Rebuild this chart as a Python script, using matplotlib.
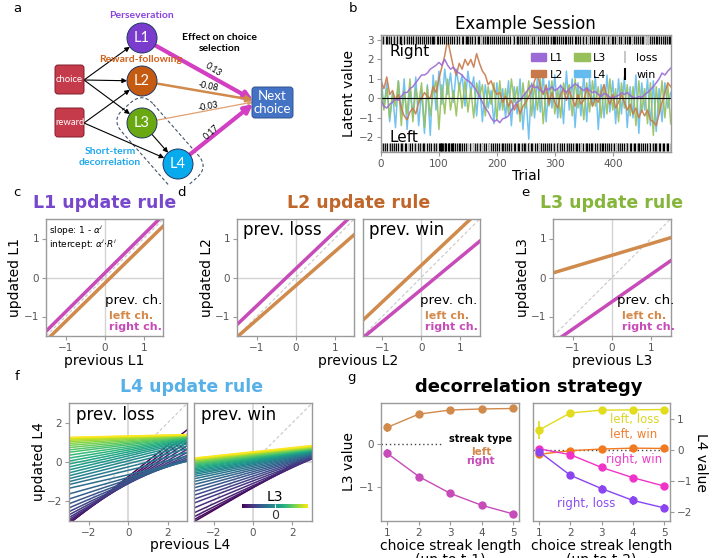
import numpy as np
import matplotlib
matplotlib.use('Agg')
import matplotlib.pyplot as plt
from matplotlib.patches import Circle, FancyBboxPatch, Patch, Rectangle
from matplotlib.lines import Line2D
from matplotlib.transforms import Affine2D
from matplotlib import cm, colors as mcolors

# ---------------- data ----------------
# panel b: example session latent values (sampled every 5 trials)
L1_vals = [-0.1, -0.4, -0.5, -0.3, -0.2, 0.0, -0.1, 0.1, 0.3, 0.3, 0.5, 0.6, 0.8, 1.0, 1.2, 1.2, 1.3, 1.5, 1.6, 1.7,
           1.85, 1.7, 2.0, 1.7, 1.5, 1.6, 1.4, 1.3, 1.2, 1.0, 0.9, 0.8, 0.6, 0.4, 0.1, -0.2, -0.5, -0.7, -1.0, -1.2,
           -1.1, -1.25, -1.05, -1.0, -0.9, -0.6, -0.4, -0.2, -0.1, 0.1, 0.3, 0.5, 0.7, 0.55, 0.6, 0.4, 0.3, 0.5, 0.45, 0.6,
           0.4, 0.5, 0.65, 0.45, 0.3, 0.5, 0.6, 0.75, 0.65, 0.5, 0.4, 0.55, 0.4, 0.3, 0.35, 0.2, 0.1, 0.25, 0.2, 0.05,
           0.0, 0.1, 0.15, 0.3, 0.2, 0.3, 0.15, 0.05, 0.0, 0.1, 0.05, 0.2, 0.3, 0.45, 0.6, 0.8, 1.0, 1.3, 1.2, 1.4, 1.55]
L2_vals = [0.9, 0.5, 1.1, 0.2, 0.4, -0.1, 0.2, -0.5, -0.9, -1.1, -0.7, -0.5, -0.8, -0.2, 0.0, 0.3, 0.1, 0.0, 0.6, 0.3,
           1.0, 1.6, 2.2, 3.0, 2.3, 1.6, 1.2, 1.8, 1.5, 2.0, 1.7, 2.0, 1.6, 2.3, 1.8, 1.4, 1.2, 0.7, 0.9, 0.5,
           0.2, 0.3, -0.2, 0.1, -0.4, -0.1, -0.6, -0.3, -0.8, -0.4, -0.2, 0.1, 0.4, 0.9, 1.3, 0.6, 0.2, 0.7, -0.3, 0.3,
           -0.2, -0.5, 0.2, 0.5, -0.1, 0.4, 0.0, -0.4, 0.2, -0.3, -0.1, 0.5, 0.2, -0.4, 0.0, -0.2, 0.3, 0.7, 0.1, -0.3,
           0.2, -0.5, -0.2, 0.2, -0.2, -0.6, -0.3, -0.8, -0.5, -1.0, -0.6, -0.9, -0.6, -1.1, -1.2, -1.4, -0.8, -0.2, 0.3, 0.8, 0.6]
L3_vals = [0.8, -0.6, 0.5, -1.0, 0.2, -0.4, 0.9, -1.4, 0.4, -0.8, 1.0, -1.2, 0.5, -0.3, 0.8, -1.5, 0.6, -0.9, 0.3, 0.9,
           -1.6, 0.7, -0.8, 1.0, -0.6, 0.4, -0.9, 0.8, -0.5, 0.9, -0.7, 0.5, -1.0, 0.8, 0.1, 0.7, -0.9, 0.6, -0.3, 0.8,
           -1.1, 0.9, -0.6, 0.5, -0.8, 1.0, -0.2, 0.6, -1.2, 0.8, -0.5, 0.9, -0.9, 0.7, -0.6, 1.0, -1.3, 0.6, -0.4, 0.9,
           -0.8, 0.5, -1.0, 0.8, 0.2, 0.7, -0.9, 1.0, -0.5, 0.6, -1.1, 0.8, -0.7, 0.9, -0.4, 0.6, -1.0, 0.7, -0.8, 1.0,
           -0.6, 0.5, -1.2, 0.8, -0.5, 0.7, -0.9, 0.6, -1.4, 0.9, -0.7, 0.5, -1.3, 0.8, -1.9, 0.6, -0.8, 0.9, -1.0, 0.7, -1.3]
L4_vals = [1.2, -0.5, 0.8, -1.2, 0.3, -1.5, 0.9, -0.8, 1.0, -1.6, 0.6, -1.0, 1.1, -1.4, 0.4, -1.8, 0.7, -1.9, 1.2, -0.6,
           1.4, -0.3, 1.5, 0.2, 1.3, -0.2, 1.5, 0.5, 1.2, -0.4, 1.4, 0.3, 1.1, -0.9, 0.9, -1.2, 0.7, -0.5, 0.4, -1.3,
           0.8, -0.6, 0.5, -1.0, 0.9, -1.4, 0.6, -0.8, 1.0, -1.6, 0.3, -2.1, 0.8, -1.0, 1.1, -0.7, 1.3, -1.2, 0.9, -0.5,
           1.2, -1.0, 0.7, -1.3, 1.4, -0.6, 1.0, -1.5, 0.8, -0.9, 1.3, -1.2, 1.0, -0.4, 1.1, -1.6, 0.7, -1.0, 1.2, -0.7,
           0.9, -1.3, 1.0, -0.8, 1.1, -1.5, 0.6, -1.0, 1.2, -1.8, 0.8, -0.6, 1.0, -1.4, 0.9, -1.7, 0.5, -1.2, 0.8, -0.5, 0.3]
sample_step = 5
# choices per trial: R/r = right win/loss, L/l = left win/loss
choice_rows = [
    "RlrLR rlLRl RLrlR rLlRL lrRLr lLRRl LrRlL RrLlR RlLrL RlrRl",
    "LrRlL RRlrL lRrLR lrLRl RlLrR LlrRL rRlLR lLrRR lLRrl LRlrR",
    "LLRLL RLLRl LLRLr LRLLR rLLRL LRlLR rLRlL RLrlR LrRlL rRLlR",
    "lRrLR lrRLl RrLRl LrRlR lLRrL lRLrR lLrRl RLlRr LlRLr RlLRl",
    "rLRlL rRlLR LrlRL lRrLl RLrRl LlRrL RlLrR lLRLr RlrLR lLRrL",
    "RlrLR LlRrL RLlrR lLRrl LRLlr RlLRr LlRLr RrLlR LrlRL rRlLR",
    "lRrLR LlrRL lRLrR lLrRl RLlRr LRlLr RrLlR lLRrL RlLrR LlrRL",
    "RrlLR lLRrL rRlLR LlrRl LRrLl RlRLr lLRrL RlLRr LlRLr RrLlR",
    "lRLrR LlRrL RlLrR lLRrL rRLlR LrlRL RlLRr lLRrL RlrLR lLRrL",
    "RlRLr lLRrL RrLlR LrlRL rRlLR LlRrL RlLrR lLRLr RRlLR rLRRl",
]

# panels c-e: update rule lines, y at x = -1.5 and x = 1.5
x_ends = [-1.5, 1.5]
c_left, c_right = [-1.62, 1.32], [-1.38, 1.60]
d_loss_left, d_loss_right = [-1.52, 1.10], [-1.20, 1.65]
d_win_left, d_win_right = [-1.10, 1.72], [-1.55, 0.93]
e_left, e_right = [0.12, 1.02], [-1.67, 0.43]

# panel f: L4 update lines, y at x = -3 and x = 3, ordered by L3 (low -> high)
f_ends = [-3, 3]
loss_start = [-3.14, -3.13, -3.09, -3.03, -2.94, -2.83, -2.69, -2.53, -2.34, -2.13, -1.89, -1.63, -1.34,
              -1.15, -1.0, -0.85, -0.7, -0.55, -0.4, -0.25, -0.1, 0.05, 0.2, 0.35, 0.5, 0.62, 0.74, 0.85,
              0.95, 1.04, 1.11, 1.17, 1.21, 1.24, 1.26]
loss_end = [1.65, 1.42, 1.22, 1.02, 0.83, 0.65, 0.49, 0.35, 0.24, 0.15, 0.09, 0.05, 0.04,
            0.3, 0.5, 0.68, 0.82, 0.93, 1.02, 1.08, 1.13, 1.17, 1.2, 1.23, 1.26, 1.28, 1.3, 1.32,
            1.34, 1.35, 1.36, 1.37, 1.38, 1.39, 1.40]
win_start = [-3.05, -2.95, -2.8, -2.6, -2.35, -2.1, -1.9, -1.7, -1.5, -1.32, -1.15, -1.0, -0.86, -0.74,
             -0.64, -0.56, -0.48, -0.41, -0.34, -0.28, -0.22, -0.16, -0.11, -0.06, -0.01, 0.03, 0.07,
             0.1, 0.13, 0.16, 0.18, 0.2]
win_end = [0.45, 0.33, 0.24, 0.18, 0.16, 0.17, 0.22, 0.26, 0.3, 0.33, 0.36, 0.39, 0.42, 0.45,
           0.48, 0.5, 0.53, 0.55, 0.58, 0.6, 0.62, 0.64, 0.66, 0.68, 0.7, 0.72, 0.74, 0.76, 0.78,
           0.8, 0.82, 0.84]
l3_range = (-1.6, 1.6)

# panel g: decorrelation strategy
streak = [1, 2, 3, 4, 5]
l3_left = [0.385, 0.69, 0.785, 0.81, 0.82]
l3_left_err = [0.11, 0.04, 0.04, 0.04, 0.03]
l3_right = [-0.215, -0.75, -1.14, -1.415, -1.615]
l3_right_err = [0.1, 0.06, 0.05, 0.05, 0.04]
l4_left_loss = [0.64, 1.19, 1.28, 1.29, 1.30]
l4_left_loss_err = [0.3, 0.06, 0.04, 0.04, 0.04]
l4_left_win = [-0.14, -0.02, 0.03, 0.06, 0.05]
l4_left_win_err = [0.1, 0.05, 0.04, 0.04, 0.04]
l4_right_win = [0.04, -0.15, -0.56, -0.89, -1.16]
l4_right_win_err = [0.08, 0.06, 0.06, 0.06, 0.06]
l4_right_loss = [-0.05, -0.81, -1.24, -1.62, -1.86]
l4_right_loss_err = [0.12, 0.1, 0.12, 0.13, 0.13]

# ---------------- style ----------------
W, H = 717, 558
plt.rcParams['font.family'] = ['DejaVu Sans']
fig = plt.figure(figsize=(W / 100, H / 100), dpi=100)

ORANGE = '#d08a4c'
MAGENTA = '#c74bb8'
TICKC = '#555555'


def add_ax(x0, y0, x1, y1):
    return fig.add_axes([x0 / W, 1 - y1 / H, (x1 - x0) / W, (y1 - y0) / H])


def style(ax):
    for s in ax.spines.values():
        s.set_color('#9a9a9a')
        s.set_linewidth(1)
    ax.tick_params(colors='#9a9a9a', labelcolor=TICKC, labelsize=7.5, length=3, width=0.8, pad=2)


def ftext(x, y, s, **kw):
    fig.text(x / W, 1 - y / H, s, **kw)


# ---------------- panel a: diagram ----------------
axa = add_ax(0, 0, 340, 185)
axa.set_xlim(0, 340)
axa.set_ylim(185, 0)
axa.axis('off')
dfont = ['Lato', 'DejaVu Sans']

nodes = {'L1': (142, 38), 'L2': (142, 81), 'L3': (142, 123), 'L4': (178, 164)}
node_col = {'L1': '#7a3ccc', 'L2': '#c55a11', 'L3': '#6aa812', 'L4': '#08aaee'}
R = 15

# dashed box around L3/L4
cx, cy = 160, 143.5
box = FancyBboxPatch((cx - 50, cy - 21), 100, 42, boxstyle='round,pad=0,rounding_size=16',
                     fill=False, ls=(0, (3, 2)), ec='#44546a', lw=0.8,
                     transform=Affine2D().rotate_deg_around(cx, cy, 48.7) + axa.transData)
axa.add_patch(box)


def arrow(p, q, color='k', lw=0.8, ms=7, rp=0, rq=0):
    p = np.array(p, float)
    q = np.array(q, float)
    v = (q - p) / np.hypot(*(q - p))
    axa.annotate('', xy=q - v * rq, xytext=p + v * rp,
                 arrowprops=dict(arrowstyle='-|>', color=color, lw=lw, shrinkA=0, shrinkB=0,
                                 mutation_scale=ms))


choice_pt, reward_pt = (84, 80), (84, 123)
for n in ['L1', 'L2', 'L3']:
    arrow(choice_pt, nodes[n], rq=R)
for n in ['L2', 'L4']:
    arrow(reward_pt, nodes[n], rq=R)
arrow(nodes['L3'], nodes['L4'], rp=R, rq=R)

next_pt = {'L1': (253, 100), 'L2': (253, 100), 'L3': (253, 102), 'L4': (253, 104)}
arrow(nodes['L1'], next_pt['L1'], color='#d23fc2', lw=3, ms=12, rp=R)
arrow(nodes['L2'], next_pt['L2'], color=ORANGE, lw=1.8, ms=9, rp=R)
arrow(nodes['L3'], next_pt['L3'], color='#e0a070', lw=0.9, ms=7, rp=R)
arrow(nodes['L4'], next_pt['L4'], color='#d23fc2', lw=3, ms=12, rp=R)

for n, (x, y) in nodes.items():
    axa.add_patch(Circle((x, y), R, fc=node_col[n], ec='#203864', lw=0.7, zorder=3))
    axa.text(x, y, n, color='white', fontsize=10.5, ha='center', va='center', family=dfont, zorder=4)

for (x, y), lab in [((55, 65), 'choice'), ((55, 108), 'reward')]:
    axa.add_patch(FancyBboxPatch((x, y), 29, 29, boxstyle='round,pad=0,rounding_size=3',
                                 fc='#c63b4c', ec='#7f1d2a', lw=0.7, zorder=3))
    axa.text(x + 14.5, y + 14.5, lab, color='white', fontsize=6.8, ha='center', va='center',
             family=dfont, zorder=4)
axa.add_patch(FancyBboxPatch((252, 87), 41, 31, boxstyle='round,pad=0,rounding_size=3',
                             fc='#4472c4', ec='#2f528f', lw=0.7, zorder=3))
axa.text(272.5, 102.5, 'Next\nchoice', color='white', fontsize=9.5, ha='center', va='center',
         family=dfont, linespacing=1.05, zorder=4)

axa.text(141, 16, 'Perseveration', color='#8844dd', fontsize=7.5, fontweight='bold', ha='center',
         va='center', family=dfont)
axa.text(141, 60, 'Reward-following', color='#d0601a', fontsize=7.5, fontweight='bold', ha='center',
         va='center', family=dfont)
axa.text(220, 43, 'Effect on choice\nselection', color='k', fontsize=7.5, fontweight='bold',
         ha='center', va='center', family=dfont, linespacing=1.2)
axa.text(110, 157, 'Short-term\ndecorrelation', color='#1fa8ec', fontsize=7.5, fontweight='bold',
         ha='center', va='center', family=dfont, linespacing=1.2)
for (x, y), s, rot in [((213, 70), '0.13', -33), ((208, 87), '-0.08', -11),
                       ((208, 107), '-0.03', 11), ((212, 132), '0.17', 42)]:
    axa.text(x, y, s, fontsize=6.3, ha='center', va='center', rotation=rot, family=dfont)

# ---------------- panel b: example session ----------------
axb = add_ax(381, 34.7, 670.7, 152.3)
style(axb)
t = np.arange(len(L1_vals)) * sample_step
for vals, col in [(L4_vals, '#64bcee'), (L3_vals, '#97c05a'), (L2_vals, '#c8794a'), (L1_vals, '#9b6ad6')]:
    axb.plot(t, vals, color=col, lw=1.1, alpha=0.9)
axb.axhline(0, color='k', lw=0.8)
choices = ''.join(choice_rows).replace(' ', '')
for i, ch in enumerate(choices):
    col = 'k' if ch.isupper() else '#bdbdbd'
    if ch.lower() == 'r':
        axb.vlines(i, 2.79, 3.2, color=col, lw=0.9)
    else:
        axb.vlines(i, -2.69, -2.28, color=col, lw=0.9)
axb.set_xlim(0, 500)
axb.set_ylim(-2.77, 3.27)
axb.set_xticks([0, 100, 200, 300, 400])
axb.set_yticks([-2, -1, 0, 1, 2, 3])
axb.set_xlabel('Trial', fontsize=10, labelpad=0)
axb.set_ylabel('Latent value', fontsize=10, labelpad=2)
axb.set_title('Example Session', fontsize=12, pad=4)
axb.text(0.03, 0.86, 'Right', transform=axb.transAxes, fontsize=11, va='center')
axb.text(0.03, 0.13, 'Left', transform=axb.transAxes, fontsize=11, va='center')
handles = [Patch(color='#9b6ad6'), Patch(color='#c8794a'), Patch(color='#97c05a'), Patch(color='#64bcee'),
           Line2D([], [], color='#bdbdbd', marker='|', ls='none', ms=8, mew=1.2),
           Line2D([], [], color='k', marker='|', ls='none', ms=8, mew=1.5)]
axb.legend(handles, ['L1', 'L2', 'L3', 'L4', 'loss', 'win'], ncol=3, loc='upper right',
           bbox_to_anchor=(0.99, 0.93), frameon=False, fontsize=8, handlelength=1.4, handleheight=0.6,
           handletextpad=0.3, columnspacing=1.0, labelspacing=0.6)


# ---------------- panels c, d, e ----------------
def rule_panel(ax, left, right, diag=True):
    style(ax)
    ax.axhline(0, color='#d3d3d3', lw=1, zorder=0)
    ax.axvline(0, color='#d3d3d3', lw=1, zorder=0)
    if diag:
        ax.plot([-1.5, 1.5], [-1.5, 1.5], color='#c8c8c8', lw=0.8, ls=(0, (3, 2)), zorder=1)
    ax.plot(x_ends, left, color=ORANGE, lw=2.5, zorder=2)
    ax.plot(x_ends, right, color=MAGENTA, lw=2.5, zorder=2)
    ax.set_xlim(-1.5, 1.5)
    ax.set_ylim(-1.5, 1.5)
    ax.set_xticks([-1, 0, 1])
    ax.set_yticks([-1, 0, 1])


def choice_key(ax, x):
    ax.text(x, -0.59, 'prev. ch.', fontsize=9.5, ha='right', va='center', clip_on=False)
    ax.text(x - 1.35, -0.99, 'left ch.', fontsize=8, fontweight='bold', color='#d4894a', va='center',
            clip_on=False)
    ax.text(x - 1.35, -1.26, 'right ch.', fontsize=8, fontweight='bold', color=MAGENTA, va='center',
            clip_on=False)


axc = add_ax(46, 219, 163.3, 336)
rule_panel(axc, c_left, c_right)
axc.set_ylabel('updated L1', fontsize=10, labelpad=1)
axc.set_xlabel('previous L1', fontsize=10, labelpad=1)
axc.text(-1.42, 1.2, r'slope: $\mathit{1}$ - $\alpha^i$', fontsize=6.5, va='center')
axc.text(-1.42, 0.83, r'intercept: $\alpha^i{\cdot}R^i$', fontsize=6.5, va='center')
choice_key(axc, 1.47)

axd1 = add_ax(237.3, 219, 354.3, 336)
rule_panel(axd1, d_loss_left, d_loss_right)
axd1.set_ylabel('updated L2', fontsize=10, labelpad=1)
axd1.text(-1.35, 1.22, 'prev. loss', fontsize=12, va='center')

axd2 = add_ax(362.7, 219, 479.7, 336)
rule_panel(axd2, d_win_left, d_win_right)
axd2.set_yticklabels([])
axd2.tick_params(axis='y', length=0)
axd2.text(-1.35, 1.22, 'prev. win', fontsize=12, va='center')
choice_key(axd2, 1.45)
ftext(358.5, 361, 'previous L2', fontsize=10, ha='center', va='center')

axe = add_ax(553.3, 219, 670.7, 336)
rule_panel(axe, e_left, e_right)
axe.set_ylabel('updated L3', fontsize=10, labelpad=1)
axe.set_xlabel('previous L3', fontsize=10, labelpad=1)
choice_key(axe, 1.6)

ftext(104.7, 203, 'L1 update rule', fontsize=12.5, fontweight='bold', color='#7747cc', ha='center', va='center')
ftext(358.5, 203, 'L2 update rule', fontsize=12.5, fontweight='bold', color='#c0662a', ha='center', va='center')
ftext(611.7, 203, 'L3 update rule', fontsize=12.5, fontweight='bold', color='#85b53a', ha='center', va='center')

# ---------------- panel f ----------------
cmap = plt.get_cmap('viridis')
norm = mcolors.Normalize(*l3_range)


def l4_panel(ax, starts, ends, label):
    style(ax)
    ax.axhline(0, color='#d3d3d3', lw=1.2, zorder=0)
    ax.axvline(0, color='#d3d3d3', lw=1.2, zorder=0)
    ax.plot([-3, 3], [-3, 3], color='#c8c8c8', lw=0.8, ls=(0, (3, 2)), zorder=0)
    l3 = np.linspace(l3_range[0], l3_range[1], len(starts))
    for y0, y1, v in zip(starts, ends, l3):
        ax.plot(f_ends, [y0, y1], color=cmap(norm(v)), lw=1.1, zorder=1)
    ax.set_xlim(-3, 3)
    ax.set_ylim(-3, 3)
    ax.set_xticks([-2, 0, 2])
    ax.set_yticks([-2, 0, 2])
    ax.text(-2.65, 2.4, label, fontsize=12, va='center', zorder=3)


axf1 = add_ax(69.3, 403.3, 187.3, 520.7)
l4_panel(axf1, loss_start, loss_end, 'prev. loss')
axf1.set_ylabel('updated L4', fontsize=10, labelpad=1)
axf2 = add_ax(194, 403.3, 312, 520.7)
l4_panel(axf2, win_start, win_end, 'prev. win')
axf2.set_yticklabels([])
axf2.tick_params(axis='y', length=0)
cax = axf2.inset_axes([-0.55, -2.35, 3.35, 0.2], transform=axf2.transData)
cb = fig.colorbar(cm.ScalarMappable(norm=norm, cmap=cmap), cax=cax, orientation='horizontal', ticks=[0])
cb.outline.set_visible(False)
cax.tick_params(labelsize=9, length=3, color='white', direction='in', labelcolor='#333333', pad=1)
cax.set_title('L3', fontsize=10, pad=2)
ftext(190.5, 545, 'previous L4', fontsize=10, ha='center', va='center')
ftext(191.7, 386.7, 'L4 update rule', fontsize=12.5, fontweight='bold', color='#57b1e8', ha='center',
      va='center')

# ---------------- panel g ----------------
axg1 = add_ax(381, 403.3, 519.3, 520.7)
style(axg1)
axg1.plot([0.8, 5.19], [0, 0], color='#444444', lw=1, ls=(0, (1, 2)), zorder=1)
axg1.add_patch(Rectangle((2.8, -0.5), 2.35, 0.75, fc='white', ec='none', zorder=2))
for vals, err, col in [(l3_left, l3_left_err, ORANGE), (l3_right, l3_right_err, MAGENTA)]:
    axg1.errorbar(streak, vals, yerr=err, color=col, marker='o', ms=5, lw=1, elinewidth=1.2, zorder=3)
axg1.text(3.97, 0.115, 'streak type', fontsize=7, fontweight='bold', ha='center', va='center', zorder=4)
axg1.text(3.97, -0.185, 'left', fontsize=7.5, fontweight='bold', color='#d4894a', ha='center',
          va='center', zorder=4)
axg1.text(3.97, -0.386, 'right', fontsize=7.5, fontweight='bold', color=MAGENTA, ha='center',
          va='center', zorder=4)
axg1.set_xlim(0.8, 5.19)
axg1.set_ylim(-1.77, 0.94)
axg1.set_xticks(streak)
axg1.set_yticks([0, -1])
axg1.set_ylabel('L3 value', fontsize=10, labelpad=2)
axg1.set_xlabel('choice streak length\n(up to t-1)', fontsize=10, labelpad=1, linespacing=1.0)

axg2 = add_ax(533.3, 403.3, 670, 520.7)
style(axg2)
axg2.plot([0.82, 5.18], [0, 0], color='#444444', lw=1, ls=(0, (1, 2)), zorder=1)
g2_series = [(l4_left_loss, l4_left_loss_err, '#e2dc1c'), (l4_left_win, l4_left_win_err, '#f07a20'),
             (l4_right_win, l4_right_win_err, '#f033c8'), (l4_right_loss, l4_right_loss_err, '#8a45f0')]
for vals, err, col in g2_series:
    axg2.errorbar(streak, vals, yerr=err, color=col, marker='o', ms=5, lw=1, elinewidth=1.2, zorder=3)
axg2.text(4.04, 0.99, 'left, loss', fontsize=8.5, color='#dcd626', ha='center', va='center')
axg2.text(4.02, 0.5, 'left, win', fontsize=8.5, color='#f08030', ha='center', va='center')
axg2.text(4.02, -0.32, 'right, win', fontsize=8.5, color='#ee3cc8', ha='center', va='center')
axg2.text(2.5, -1.73, 'right, loss', fontsize=8.5, color='#8a4cf0', ha='center', va='center')
axg2.set_xlim(0.82, 5.18)
axg2.set_ylim(-2.27, 1.5)
axg2.set_xticks(streak)
axg2.set_yticks([1, 0, -1, -2])
axg2.yaxis.tick_right()
axg2.yaxis.set_label_position('right')
axg2.set_ylabel('L4 value', fontsize=10, rotation=270, labelpad=11)
axg2.set_xlabel('choice streak length\n(up to t-2)', fontsize=10, labelpad=1, linespacing=1.0)
ftext(529, 386.7, 'decorrelation strategy', fontsize=13, fontweight='bold', ha='center', va='center')

# panel letters
for (x, y), s in [((17, 8), 'a'), ((353, 8), 'b'), ((17, 192), 'c'), ((181, 192), 'd'),
                  ((525, 192), 'e'), ((17, 377), 'f'), ((352, 377), 'g')]:
    ftext(x, y, s, fontsize=9.5, ha='center', va='center')

fig.savefig('out.png', dpi=100)
